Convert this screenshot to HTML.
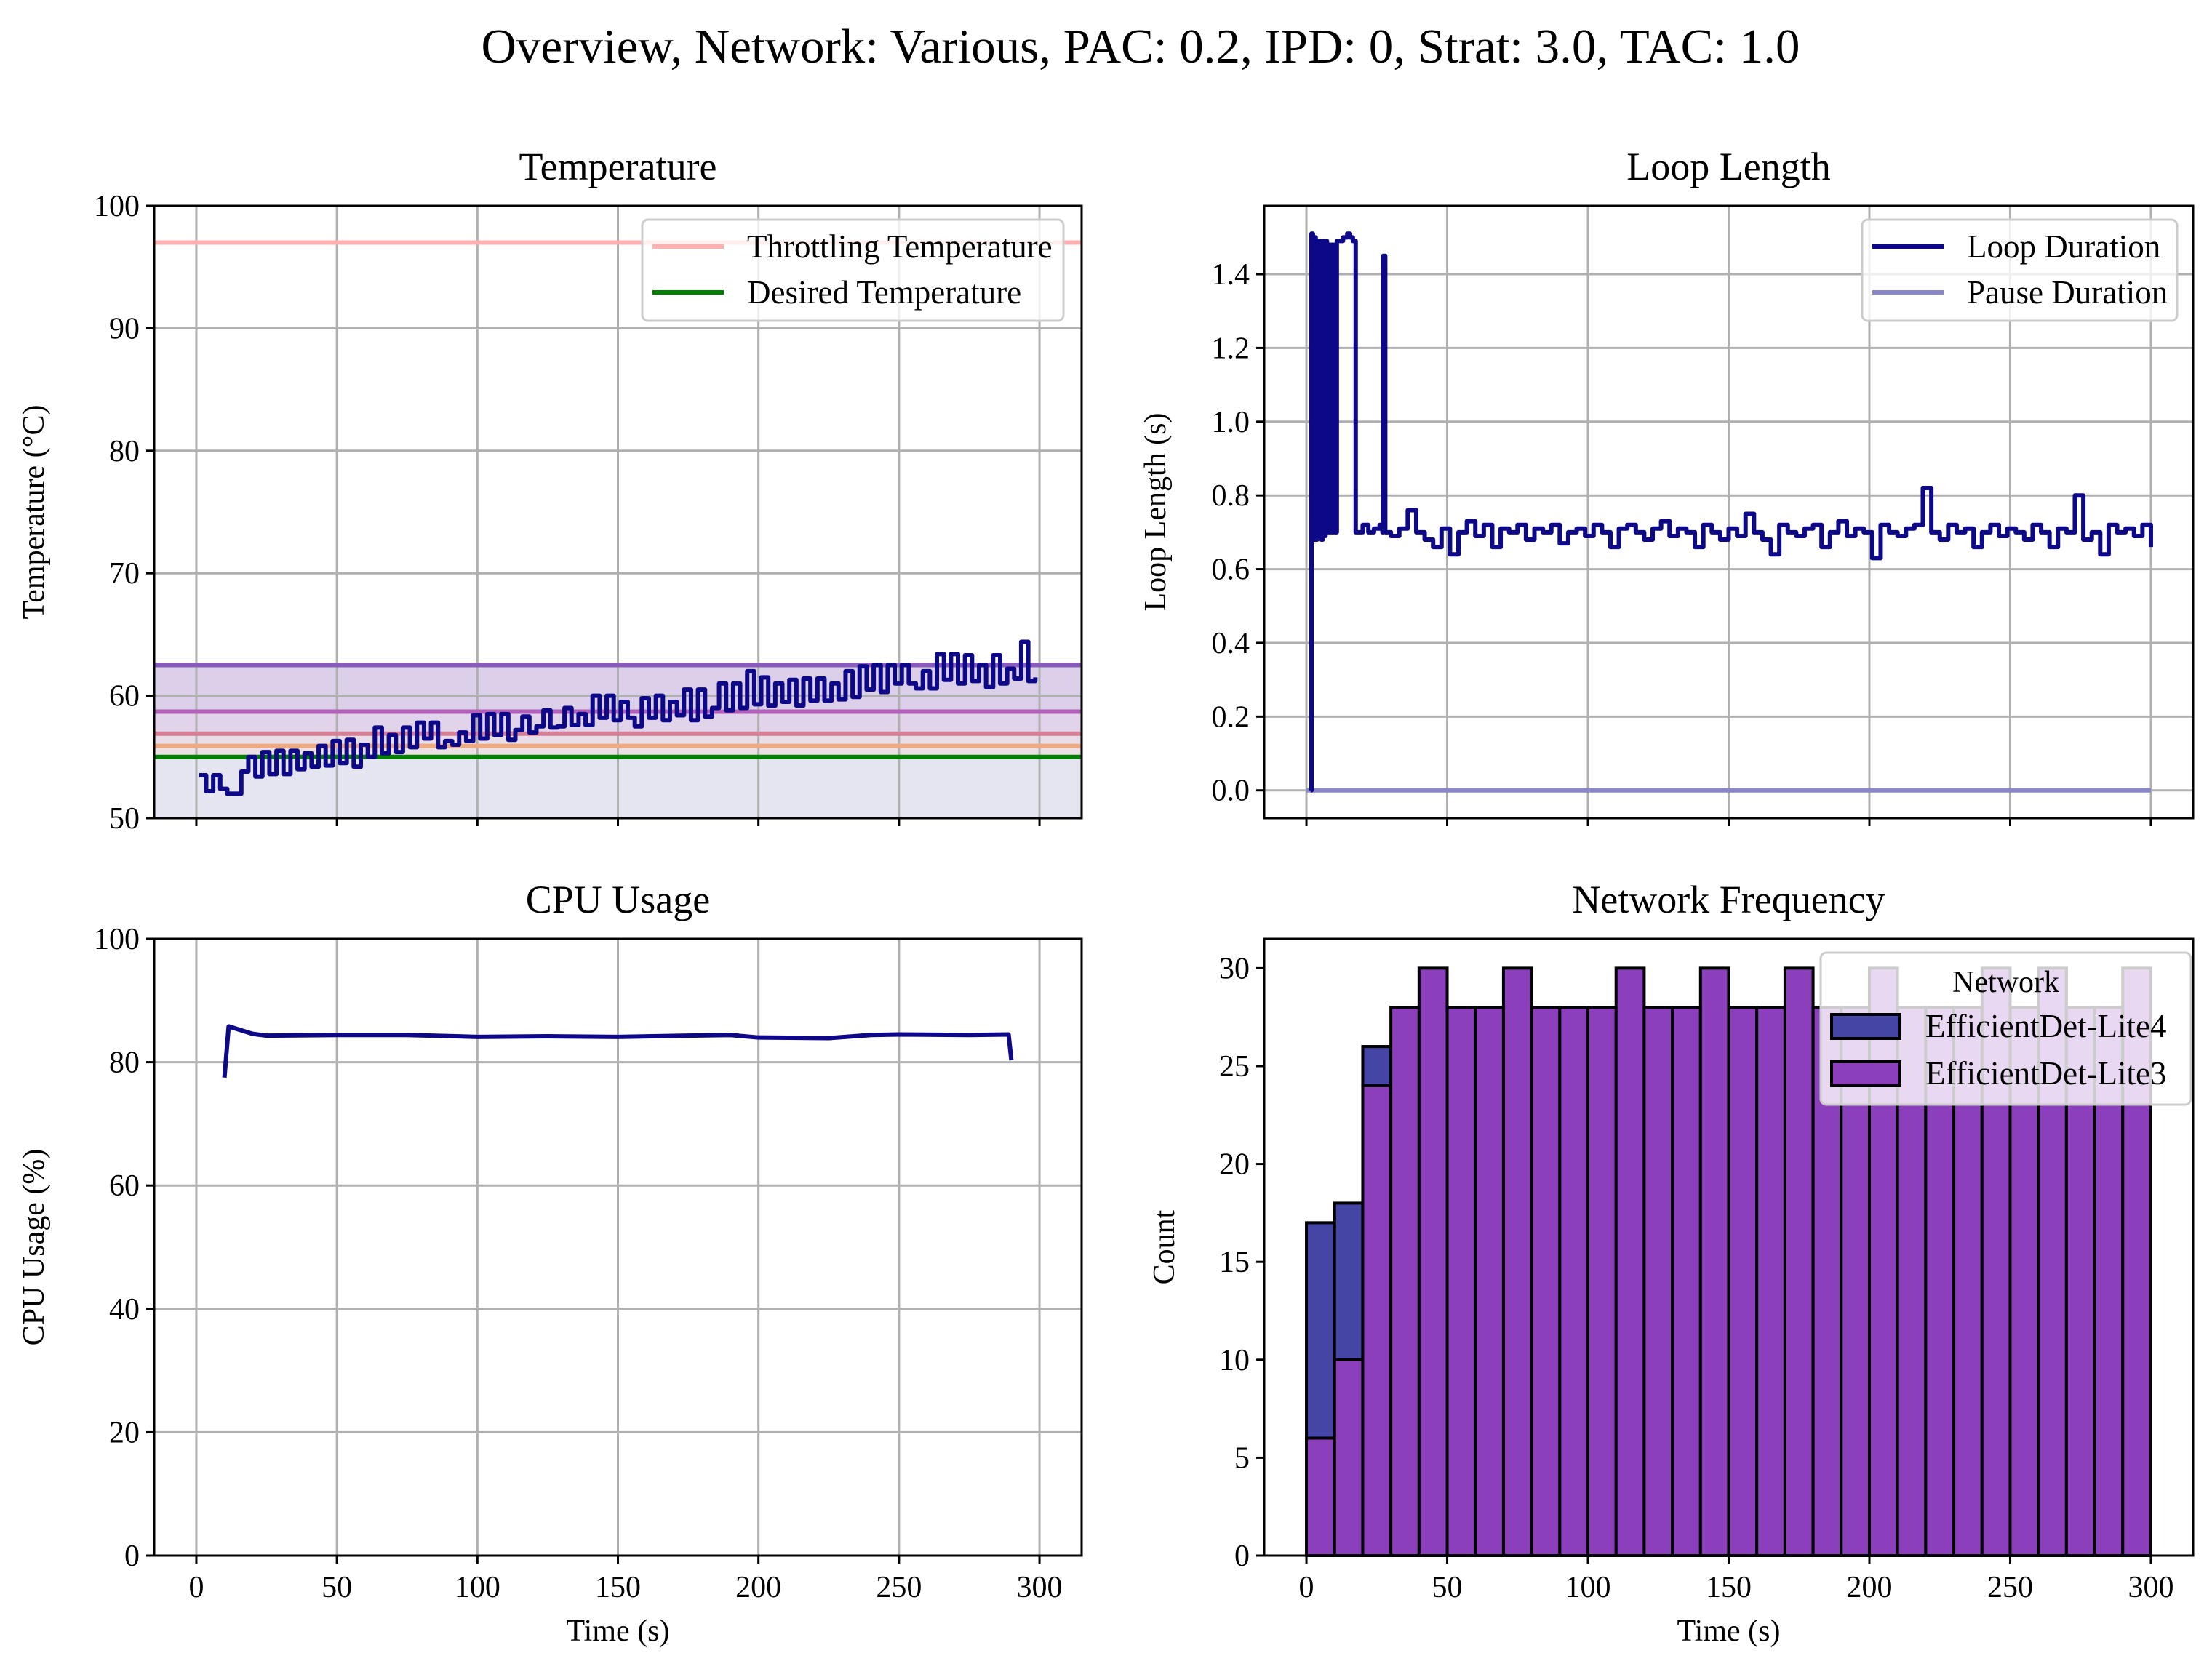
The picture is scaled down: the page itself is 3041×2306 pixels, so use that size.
<!DOCTYPE html>
<html><head><meta charset="utf-8"><style>
html,body{margin:0;padding:0;background:#fff}
svg{display:block}
text{font-family:"Liberation Serif",serif;fill:#000}
</style></head><body>
<svg id="fig" xmlns="http://www.w3.org/2000/svg" width="3041" height="2306" viewBox="0 0 3041 2306">
<rect width="3041" height="2306" fill="#fff"/>
<text x="1568" y="86" font-size="67" text-anchor="middle">Overview, Network: Various, PAC: 0.2, IPD: 0, Strat: 3.0, TAC: 1.0</text>
<g id="root"></g>
</svg>
<script>
// ---------- data ----------
const tempStart = 1, tempStep = 2.5;
const tempValues = [53.5,52.2,53.5,52.4,52.0,52.0,53.8,55.0,53.4,55.4,53.6,55.5,53.6,55.5,54.0,55.3,54.2,55.9,54.3,56.3,
54.5,56.4,54.2,56.0,55.0,57.4,55.3,56.8,55.4,57.4,55.8,57.8,56.5,57.8,55.8,56.3,56.0,57.0,56.3,58.4,
56.5,58.5,56.8,58.5,56.4,57.2,58.3,57.0,57.5,58.8,57.4,57.5,59.0,57.6,58.5,57.6,60.0,58.2,60.0,58.0,
59.5,58.2,57.5,59.8,58.2,60.0,58.0,59.5,58.4,60.5,58.0,60.5,58.3,59.0,61.0,58.8,61.0,59.0,62.0,59.3,
61.5,59.2,61.0,59.5,61.3,59.2,61.4,59.6,61.4,59.6,61.0,59.7,62.0,59.9,62.4,60.5,62.5,60.3,62.5,61.0,
62.5,61.0,60.6,62.0,60.6,63.4,61.3,63.4,61.0,63.3,61.2,62.5,60.7,63.3,61.0,62.2,61.4,64.4,61.2,61.5];
const throttleTemp = 97, desiredTemp = 55;
const bandLevels = [62.5, 58.7, 56.9, 55.9];
const bandColors = ['#8a5cc0','#b060b8','#d68098','#eeaa80'];

const loopEarlyT = [1.5,1.8,2.3,2.8,3.3,3.8,4.3,4.8,5.3,5.8,6.3,6.8,7.3,7.8,8.3,8.8,9.3,9.8,10.3,10.8,11.5,13,14.5,15.5,16.5,17.5,20,22,24,26,27,27.3,28];
const loopEarlyV = [0,1.51,0.68,1.5,0.68,1.49,0.7,1.49,0.68,1.49,0.69,1.49,0.7,1.48,0.7,1.48,0.7,1.48,0.7,1.49,1.49,1.5,1.51,1.5,1.49,0.7,0.72,0.7,0.71,0.72,0.7,1.45,0.7];
const loopStart = 30, loopStep = 3;
const loopValues = [0.69,0.71,0.76,0.70,0.68,0.66,0.71,0.64,0.70,0.73,0.69,0.72,0.66,0.71,0.70,0.72,0.68,0.71,0.70,0.72,
0.67,0.70,0.71,0.69,0.72,0.70,0.66,0.71,0.72,0.70,0.68,0.71,0.73,0.69,0.71,0.70,0.66,0.72,0.70,0.68,
0.71,0.69,0.75,0.70,0.68,0.64,0.72,0.70,0.69,0.71,0.72,0.66,0.70,0.73,0.69,0.71,0.70,0.63,0.72,0.70,
0.69,0.71,0.72,0.82,0.70,0.68,0.72,0.70,0.71,0.66,0.70,0.72,0.69,0.71,0.70,0.68,0.72,0.70,0.66,0.71,
0.70,0.80,0.68,0.70,0.64,0.72,0.70,0.71,0.69,0.72,0.66];
const pauseT = [0, 300];
const pauseV = [0, 0];

const cpuT = [10,11.5,15,20,25,50,75,100,125,150,175,190,200,225,240,250,275,289,290];
const cpuV = [77.5,85.8,85.3,84.6,84.3,84.4,84.4,84.1,84.2,84.1,84.3,84.4,84.0,83.9,84.4,84.5,84.4,84.5,80.3];

const binEdges = [0,10,20,30,40,50,60,70,80,90,100,110,120,130,140,150,160,170,180,190,200,210,220,230,240,250,260,270,280,290,300];
const lite3Counts = [6,10,24,28,30,28,28,30,28,28,28,30,28,28,30,28,28,30,28,28,30,28,28,28,30,28,30,28,28,30];
const lite4Counts = [11,8,2,0,0,0,0,0,0,0,0,0,0,0,0,0,0,0,0,0,0,0,0,0,0,0,0,0,0,0];

const xTicks = [0,50,100,150,200,250,300];
const tempTicks = [50,60,70,80,90,100];
const loopTicks = [0.0,0.2,0.4,0.6,0.8,1.0,1.2,1.4];
const cpuTicks = [0,20,40,60,80,100];
const countTicks = [0,5,10,15,20,25,30];

// ---------- helpers ----------
const NS = 'http://www.w3.org/2000/svg';
const root = document.getElementById('root');
function el(tag, attrs, parent){ const e=document.createElementNS(NS,tag); for(const k in attrs) e.setAttribute(k,attrs[k]); (parent||root).appendChild(e); return e; }
function scale(d0,d1,r0,r1){ return v => r0 + (v-d0)/(d1-d0)*(r1-r0); }

function makeAxes(name, L, R, T, B, xlim, ylim, yticks, yfmt, showX, title, ylabel, ylabOff){
  const g = el('g',{});
  
  
  const sx = scale(xlim[0],xlim[1],L,R), sy = scale(ylim[0],ylim[1],B,T);
  return {g,sx,sy,L,R,T,B,xlim,ylim,yticks,yfmt,showX,title,ylabel,ylabOff,name};
}
function drawGrid(a, grid){
  if(!grid) return;
  xTicks.forEach(t=>{ const l=el('line',{x1:a.sx(t),x2:a.sx(t),y1:a.T,y2:a.B,stroke:'#b0b0b0','stroke-width':3},a.g);
      });
  a.yticks.forEach(t=>{ const l=el('line',{x1:a.L,x2:a.R,y1:a.sy(t),y2:a.sy(t),stroke:'#b0b0b0','stroke-width':3},a.g);
      });
}
function drawFrame(a, xlab){
  const r=el('rect',{x:a.L,y:a.T,width:a.R-a.L,height:a.B-a.T,fill:'none',stroke:'#000','stroke-width':3},a.g);
   
  xTicks.forEach(t=>{ el('line',{x1:a.sx(t),x2:a.sx(t),y1:a.B,y2:a.B+11,stroke:'#000','stroke-width':3},a.g);
    if(a.showX){ const tx=el('text',{x:a.sx(t),y:a.B+57,'font-size':42,'text-anchor':'middle'},a.g); tx.textContent=t;
        } });
  a.yticks.forEach(t=>{ el('line',{x1:a.L-11,x2:a.L,y1:a.sy(t),y2:a.sy(t),stroke:'#000','stroke-width':3},a.g);
    const tx=el('text',{x:a.L-20,y:a.sy(t)+14,'font-size':42,'text-anchor':'end'},a.g); tx.textContent=a.yfmt(t);
      });
  const ti=el('text',{x:(a.L+a.R)/2,y:a.T-36,'font-size':54,'text-anchor':'middle'},a.g); ti.textContent=a.title;
   
  if(a.ylabel){ const yl=el('text',{x:0,y:0,'font-size':42,'text-anchor':'middle',transform:`translate(${a.L-a.ylabOff},${(a.T+a.B)/2}) rotate(-90)`},a.g); yl.textContent=a.ylabel;
      }
  if(xlab){ const xl=el('text',{x:(a.L+a.R)/2,y:a.B+117,'font-size':42,'text-anchor':'middle'},a.g); xl.textContent='Time (s)';
      }
}
function clip(a,id){ const cp=el('clipPath',{id:id},a.g); el('rect',{x:a.L,y:a.T,width:a.R-a.L,height:a.B-a.T},cp); return 'url(#'+id+')'; }
function legend(a, x, y, w, h, title, items){
  const lg=el('g',{},a.g);
   
  el('rect',{x:x,y:y,width:w,height:h,rx:8,fill:'#fff','fill-opacity':0.8,stroke:'#cccccc','stroke-width':3},lg);
  let yy=y+(title?101:37);
  if(title){ const t=el('text',{x:x+w/2,y:y+54,'font-size':42,'text-anchor':'middle'},lg); t.textContent=title;
      }
  items.forEach(it=>{
    const e=el('g',{},lg);
     
    if(it.patch){ el('rect',{x:x+15,y:yy-16,width:94,height:33,fill:it.color,stroke:'#000','stroke-width':4},e); }
    else el('line',{x1:x+14,x2:x+112,y1:yy,y2:yy,stroke:it.color,'stroke-width':6},e);
    const t=el('text',{x:x+144,y:yy+15,'font-size':45},e); t.textContent=it.label;
    yy+= it.patch?65:63;
  });
}
function stepPath(a, ts, vs){
  let d='';
  for(let i=0;i<ts.length;i++){
    const x=a.sx(ts[i]), y=a.sy(vs[i]);
    if(i===0) d+=`M${x},${y}`; else { d+=`H${x}V${y}`; }
  }
  return d;
}

const XL=[-15,315];
// ---------- Temperature ----------
(function(){
  const a=makeAxes('temperature-chart',212,1487,283,1125,XL,[50,100],tempTicks,v=>v,false,'Temperature','Temperature (°C)',152);
  const cid=clip(a,'c1');
  const bg=el('g',{'clip-path':cid},a.g);
  const fills=['#dccfe9','#e1d3ea','#e9dde8','#ebe0e3'];
  bandLevels.forEach((lv,i)=>{ const r=el('rect',{x:a.L,y:a.sy(lv),width:a.R-a.L,height:a.sy(i<3?bandLevels[i+1]:desiredTemp)-a.sy(lv),fill:fills[i]},bg);
      });
  const r0=el('rect',{x:a.L,y:a.sy(desiredTemp),width:a.R-a.L,height:a.sy(50)-a.sy(desiredTemp),fill:'#e5e5f2'},bg);
   
  drawGrid(a,true);
  const lg=el('g',{'clip-path':cid},a.g);
  bandLevels.forEach((lv,i)=>{ const l=el('line',{x1:a.L,x2:a.R,y1:a.sy(lv),y2:a.sy(lv),stroke:bandColors[i],'stroke-width':6},lg);
      });
  const tl=el('line',{x1:a.L,x2:a.R,y1:a.sy(throttleTemp),y2:a.sy(throttleTemp),stroke:'#ffb0b0','stroke-width':6},lg);
   
  const dl=el('line',{x1:a.L,x2:a.R,y1:a.sy(desiredTemp),y2:a.sy(desiredTemp),stroke:'#008000','stroke-width':6},lg);
   
  const ts=tempValues.map((v,i)=>tempStart+i*tempStep);
  const p=el('path',{d:stepPath(a,ts,tempValues),fill:'none',stroke:'#0d0887','stroke-width':6,'stroke-linejoin':'round'},lg);
   
  drawFrame(a,false);
  legend(a,883,302,579,139,null,[{color:'#ffb0b0',label:'Throttling Temperature'},{color:'#008000',label:'Desired Temperature'}]);
})();

// ---------- Loop Length ----------
(function(){
  const a=makeAxes('loop-length-chart',1738,3015,283,1125,XL,[-0.0755,1.5855],loopTicks,v=>v.toFixed(1),false,'Loop Length','Loop Length (s)',136);
  const cid=clip(a,'c2');
  drawGrid(a,true);
  const g=el('g',{'clip-path':cid},a.g);
  const pp=el('path',{d:stepPath(a,pauseT,pauseV),fill:'none',stroke:'#8888c8','stroke-width':6},g);
   
  const ts=loopEarlyT.concat(loopValues.map((v,i)=>loopStart+i*loopStep));
  const vs=loopEarlyV.concat(loopValues);
  const p=el('path',{d:stepPath(a,ts,vs),fill:'none',stroke:'#0d0887','stroke-width':6,'stroke-linejoin':'round'},g);
   
  drawFrame(a,false);
  legend(a,2560,302,433,139,null,[{color:'#0d0887',label:'Loop Duration'},{color:'#8888c8',label:'Pause Duration'}]);
})();

// ---------- CPU ----------
(function(){
  const a=makeAxes('cpu-usage-chart',212,1487,1291,2139,XL,[0,100],cpuTicks,v=>v,true,'CPU Usage','CPU Usage (%)',152);
  const cid=clip(a,'c3');
  drawGrid(a,true);
  const d=cpuT.map((t,i)=>(i?'L':'M')+a.sx(t)+','+a.sy(cpuV[i])).join('');
  const p=el('path',{d:d,fill:'none',stroke:'#0d0887','stroke-width':6,'stroke-linejoin':'round','clip-path':cid},a.g);
   
  drawFrame(a,true);
})();

// ---------- Network Frequency ----------
(function(){
  const a=makeAxes('network-frequency-chart',1738,3015,1291,2139,XL,[0,31.5],countTicks,v=>v,true,'Network Frequency','Count',124);
  el('line',{x1:a.L,x2:a.R,y1:a.sy(0),y2:a.sy(0),stroke:'#b0b0b0','stroke-width':3},a.g);
  lite3Counts.forEach((c,i)=>{
    const x0=a.sx(binEdges[i]), x1=a.sx(binEdges[i+1]);
    const b=el('rect',{x:x0,y:a.sy(c),width:x1-x0,height:a.sy(0)-a.sy(c),fill:'#8c3fbd',stroke:'#000','stroke-width':4},a.g);
     
    const c4=lite4Counts[i];
    if(c4>0){ const b4=el('rect',{x:x0,y:a.sy(c+c4),width:x1-x0,height:a.sy(c)-a.sy(c+c4),fill:'#4545a5',stroke:'#000','stroke-width':4},a.g);
        }
  });
  drawFrame(a,true);
  legend(a,2503,1310,509,209,'Network',[{patch:true,color:'#4545a5',label:'EfficientDet-Lite4'},{patch:true,color:'#8c3fbd',label:'EfficientDet-Lite3'}]);
})();
</script>
</body></html>
